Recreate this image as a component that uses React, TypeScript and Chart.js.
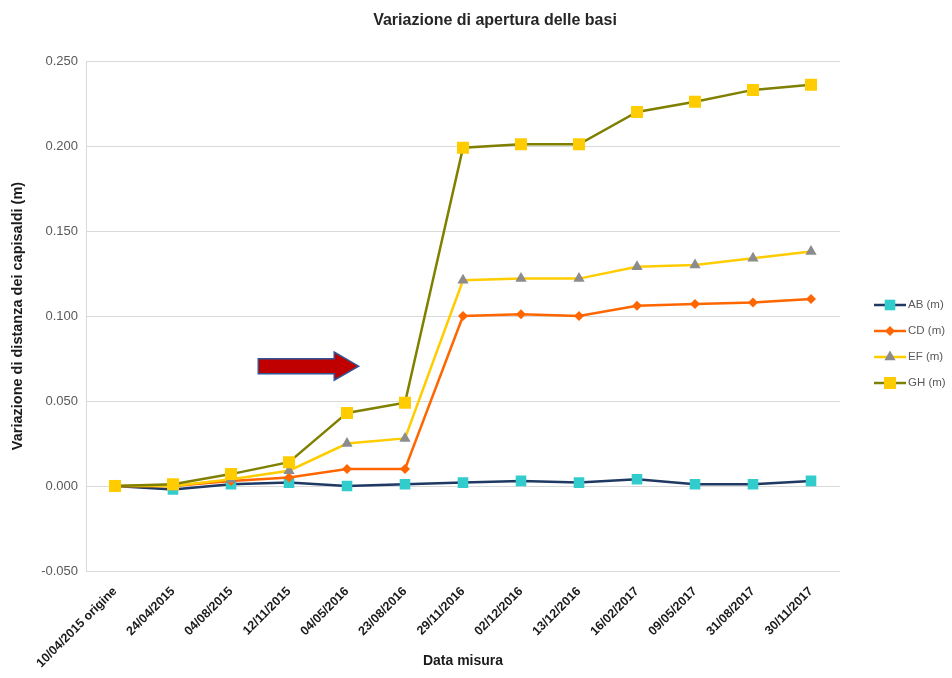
import React, { useEffect, useRef } from "react";
import { Chart, registerables } from "chart.js";

Chart.register(...registerables);

const categories = [
  "10/04/2015 origine",
  "24/04/2015",
  "04/08/2015",
  "12/11/2015",
  "04/05/2016",
  "23/08/2016",
  "29/11/2016",
  "02/12/2016",
  "13/12/2016",
  "16/02/2017",
  "09/05/2017",
  "31/08/2017",
  "30/11/2017",
];

const abValues = [0.0, -0.002, 0.001, 0.002, 0.0, 0.001, 0.002, 0.003, 0.002, 0.004, 0.001, 0.001, 0.003];
const cdValues = [0.0, 0.0, 0.003, 0.005, 0.01, 0.01, 0.1, 0.101, 0.1, 0.106, 0.107, 0.108, 0.11];
const efValues = [0.0, 0.0, 0.004, 0.009, 0.025, 0.028, 0.121, 0.122, 0.122, 0.129, 0.13, 0.134, 0.138];
const ghValues = [0.0, 0.001, 0.007, 0.014, 0.043, 0.049, 0.199, 0.201, 0.201, 0.22, 0.226, 0.233, 0.236];

const seriesLabels = ["AB (m)", "CD (m)", "EF (m)", "GH (m)"];

const yMin = -0.05;
const yMax = 0.25;
const yStep = 0.05;

const chartTitle = "Variazione di apertura delle basi";
const xTitle = "Data misura";
const yTitle = "Variazione di distanza dei capisaldi (m)";

// arrow annotation in data units (category index, value)
const arrowFrom = 2.47;
const arrowTo = 4.2;
const arrowHeadFrom = 3.78;
const arrowValue = 0.0705;

const FONT = "'Liberation Sans', Arial, sans-serif";

const styles = [
  { line: "#1F3864", point: "#33CCCC", shape: "rect", radius: 7.5 },
  { line: "#FF6600", point: "#FF6600", shape: "rectRot", radius: 5 },
  { line: "#FFCC00", point: "#8C8C8C", shape: "triangle", radius: 6.5 },
  { line: "#808000", point: "#FFCC00", shape: "rect", radius: 8.5 },
];

const decorPlugin = {
  id: "decor",
  afterDraw(chart: any) {
    const { ctx, scales } = chart;
    const x = scales.x;
    const y = scales.y;
    ctx.save();

    // title
    ctx.fillStyle = "#262626";
    ctx.font = `bold 16px ${FONT}`;
    ctx.textAlign = "center";
    ctx.textBaseline = "middle";
    ctx.fillText(chartTitle, 495, 21);

    // arrow
    const x0 = x.getPixelForValue(arrowFrom);
    const x1 = x.getPixelForValue(arrowTo);
    const xh = x.getPixelForValue(arrowHeadFrom);
    const yc = y.getPixelForValue(arrowValue);
    const bh = 7.5;
    const hh = 14;
    ctx.beginPath();
    ctx.moveTo(x0, yc - bh);
    ctx.lineTo(xh, yc - bh);
    ctx.lineTo(xh, yc - hh);
    ctx.lineTo(x1, yc);
    ctx.lineTo(xh, yc + hh);
    ctx.lineTo(xh, yc + bh);
    ctx.lineTo(x0, yc + bh);
    ctx.closePath();
    ctx.fillStyle = "#C00000";
    ctx.fill();
    ctx.lineWidth = 1.5;
    ctx.strokeStyle = "#2F5597";
    ctx.stroke();

    // legend
    const lx0 = 874;
    const lx1 = 906;
    const spacing = 26;
    const startY = 305;
    ctx.font = `11.5px ${FONT}`;
    ctx.textAlign = "left";
    ctx.textBaseline = "middle";
    chart.data.datasets.forEach((ds: any, i: number) => {
      const s = styles[i];
      const ly = startY + i * spacing;
      ctx.beginPath();
      ctx.moveTo(lx0, ly);
      ctx.lineTo(lx1, ly);
      ctx.strokeStyle = s.line;
      ctx.lineWidth = 2.5;
      ctx.stroke();
      ctx.fillStyle = s.point;
      const cx = (lx0 + lx1) / 2;
      if (s.shape === "rect") {
        const side = s.radius * 1.414;
        ctx.fillRect(cx - side / 2, ly - side / 2, side, side);
      } else if (s.shape === "rectRot") {
        const r = s.radius;
        ctx.beginPath();
        ctx.moveTo(cx, ly - r);
        ctx.lineTo(cx + r, ly);
        ctx.lineTo(cx, ly + r);
        ctx.lineTo(cx - r, ly);
        ctx.closePath();
        ctx.fill();
      } else {
        const r = s.radius;
        ctx.beginPath();
        ctx.moveTo(cx, ly - r);
        ctx.lineTo(cx + r * 0.866, ly + r * 0.5);
        ctx.lineTo(cx - r * 0.866, ly + r * 0.5);
        ctx.closePath();
        ctx.fill();
      }
      ctx.fillStyle = "#595959";
      ctx.fillText(ds.label, lx1 + 2, ly);
    });

    ctx.restore();
  },
};

export default function App() {
  const canvasRef = useRef<HTMLCanvasElement | null>(null);

  useEffect(() => {
    const canvas = canvasRef.current;
    if (!canvas) return;
    const allValues = [abValues, cdValues, efValues, ghValues];
    const chart = new Chart(canvas, {
      type: "line",
      data: {
        labels: categories,
        datasets: allValues.map((vals, i) => ({
          label: seriesLabels[i],
          data: vals,
          borderColor: styles[i].line,
          backgroundColor: styles[i].point,
          pointBackgroundColor: styles[i].point,
          pointBorderColor: styles[i].point,
          pointBorderWidth: 0,
          pointStyle: styles[i].shape as any,
          pointRadius: styles[i].radius,
          borderWidth: 2.5,
          tension: 0,
          fill: false,
          order: 3 - i,
        })),
      },
      options: {
        responsive: false,
        animation: false,
        devicePixelRatio: 1,
        layout: { padding: { top: 61, right: 112, bottom: 0, left: 0 } },
        plugins: {
          legend: { display: false },
          title: { display: false },
          tooltip: { enabled: false },
        },
        scales: {
          x: {
            type: "category",
            offset: true,
            grid: { display: false },
            border: { display: false },
            ticks: {
              minRotation: 45,
              maxRotation: 45,
              autoSkip: false,
              color: "#1a1a1a",
              padding: 5,
              font: { family: FONT, size: 12.5, weight: "bold" },
            },
            title: {
              display: true,
              text: xTitle,
              color: "#1a1a1a",
              font: { family: FONT, size: 14, weight: "bold" },
              padding: { top: 0, bottom: 8 },
            },
            afterFit(scale: any) {
              scale.height = 107;
            },
          },
          y: {
            min: yMin,
            max: yMax,
            grid: { color: "#D9D9D9", lineWidth: 1, drawTicks: false },
            border: { display: true, color: "#D9D9D9" },
            ticks: {
              stepSize: yStep,
              color: "#595959",
              padding: 8,
              font: { family: FONT, size: 13 },
              callback: (v: any) => {
                const n = Number(v);
                return (Math.abs(n) < 1e-9 ? 0 : n).toFixed(3);
              },
            },
            title: {
              display: true,
              text: yTitle,
              color: "#1a1a1a",
              font: { family: FONT, size: 14.5, weight: "bold" },
              padding: { top: 9, bottom: 0 },
            },
            afterFit(scale: any) {
              scale.width = 86;
            },
          },
        },
      },
      plugins: [decorPlugin],
    });
    return () => chart.destroy();
  }, []);

  return (
    <div style={{ position: "absolute", left: 0, top: 0, width: 952, height: 678, background: "#fff" }}>
      <canvas ref={canvasRef} width={952} height={678} />
    </div>
  );
}
